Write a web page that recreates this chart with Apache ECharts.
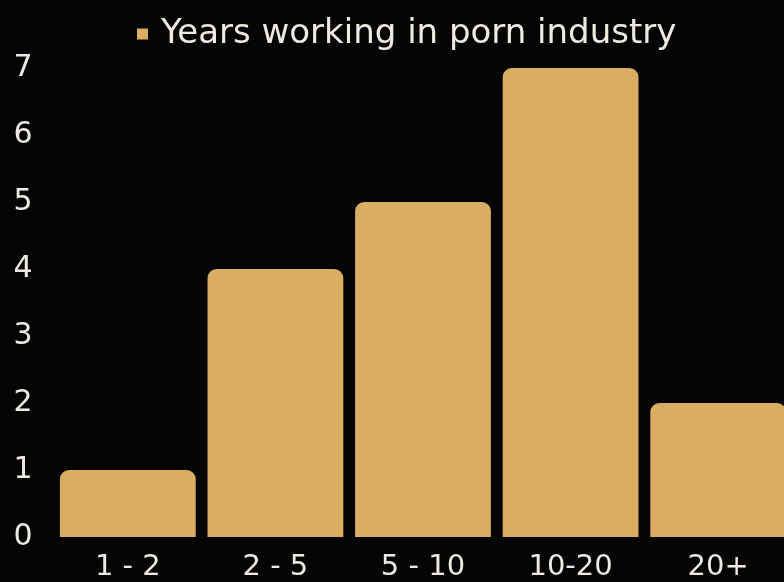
<!DOCTYPE html>
<html>
<head>
<meta charset="utf-8">
<script src="https://cdn.jsdelivr.net/npm/echarts@6/dist/echarts.min.js"></script>
<style>
html,body{margin:0;padding:0;background:#050505;}
#chart{width:784px;height:582px;}
</style>
</head>
<body>
<div id="chart"></div>
<script>
const categories = ['1 - 2', '2 - 5', '5 - 10', '10-20', '20+'];
const values = [1, 4, 5, 7, 2];
const seriesName = 'Years working in porn industry';
const yTicks = [0, 1, 2, 3, 4, 5, 6, 7];

const chart = echarts.init(document.getElementById('chart'));
const font = '"DejaVu Sans", sans-serif';
const textColor = '#EEEAE2';
chart.setOption({
  backgroundColor: '#050505',
  animation: false,
  legend: {
    top: 12,
    left: 132,
    icon: 'rect',
    itemWidth: 11,
    itemHeight: 11,
    itemGap: 10,
    textStyle: { color: textColor, fontSize: 34, fontFamily: font, fontWeight: 'normal', padding: [0, 0, 0, 8] }
  },
  grid: { left: 54, width: 738, top: 68, bottom: 45, outerBoundsMode: 'none', containLabel: false },
  xAxis: {
    type: 'category',
    data: categories,
    axisLine: { show: false },
    axisTick: { show: false },
    axisLabel: { color: textColor, fontSize: 29, fontFamily: font, margin: 16 }
  },
  yAxis: {
    type: 'value',
    min: yTicks[0],
    max: yTicks[yTicks.length - 1],
    interval: 1,
    splitLine: { show: false },
    axisLine: { show: false },
    axisTick: { show: false },
    axisLabel: { color: textColor, fontSize: 30, fontFamily: font, align: 'center', margin: 31 }
  },
  series: [{
    name: seriesName,
    type: 'bar',
    data: values,
    barCategoryGap: '8%',
    itemStyle: { color: '#D9AE62', borderRadius: [9, 9, 0, 0] }
  }]
});
</script>
</body>
</html>
